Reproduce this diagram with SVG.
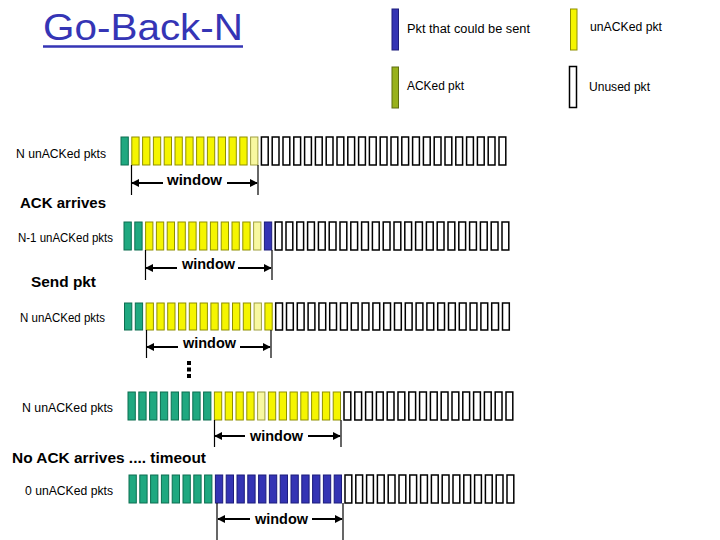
<svg xmlns="http://www.w3.org/2000/svg" width="720" height="540" viewBox="0 0 720 540">
<style>
.lbl{font-family:"Liberation Sans",Arial,sans-serif;font-size:12px;fill:#000}
.big{font-family:"Liberation Sans",Arial,sans-serif;font-size:15px;font-weight:bold;fill:#000}
.win{font-family:"Liberation Sans",Arial,sans-serif;font-size:15px;font-weight:bold;fill:#000}
.g{fill:#1fa880;stroke:#0c6e50;stroke-width:1;width:7.3px}
.y{fill:#f5f500;stroke:#8f8f00;stroke-width:1;width:7.3px}
.py{fill:#f8f8a0;stroke:#a0a040;stroke-width:1;width:7.3px}
.b{fill:#3434b4;stroke:#1c1c7c;stroke-width:1;width:7.3px}
.w{fill:#fff;stroke:#000;stroke-width:1.5;width:6.8px}
.o{fill:#99b21c;stroke:#5e6e10;stroke-width:1}
.tick{stroke:#000;stroke-width:1.2;fill:none}
.arr{stroke:#000;stroke-width:2;fill:none;marker-end:url(#ah)}
</style>
<defs>
<marker id="ah" viewBox="0 0 10 10" refX="9" refY="5" markerWidth="4" markerHeight="4" orient="auto" markerUnits="strokeWidth">
<path d="M0,0 L10,5 L0,10 z" fill="#000"/>
</marker>
</defs>

<g id="title">
<text x="43" y="40" font-family="'Liberation Sans',Arial,sans-serif" font-size="36" fill="#3535b5" textLength="200" lengthAdjust="spacingAndGlyphs">Go-Back-N</text>
<line x1="43" y1="46.5" x2="243" y2="46.5" stroke="#3535b5" stroke-width="2.5"/>
</g>

<g id="legend">
<rect class="b" x="392" y="9" width="6.5" height="41" style="width:6.5px"/>
<text class="lbl" x="407" y="33" textLength="123" lengthAdjust="spacingAndGlyphs">Pkt that could be sent</text>
<rect class="y" x="570.5" y="9" width="6.5" height="41" style="width:6.5px"/>
<text class="lbl" x="590" y="31" textLength="72" lengthAdjust="spacingAndGlyphs">unACKed pkt</text>
<rect class="o" x="392" y="67" width="6.5" height="41"/>
<text class="lbl" x="407" y="90" textLength="57" lengthAdjust="spacingAndGlyphs">ACKed pkt</text>
<rect class="w" x="569.5" y="66.5" width="7" height="41" style="width:7px"/>
<text class="lbl" x="589" y="91" textLength="61" lengthAdjust="spacingAndGlyphs">Unused pkt</text>
</g>

<g id="labels">
<text class="lbl" x="16" y="158" textLength="90" lengthAdjust="spacingAndGlyphs">N unACKed pkts</text>
<text class="big" x="20" y="208" textLength="86" lengthAdjust="spacingAndGlyphs">ACK arrives</text>
<text class="lbl" x="18" y="242" textLength="95" lengthAdjust="spacingAndGlyphs">N-1 unACKed pkts</text>
<text class="big" x="31" y="287" textLength="65" lengthAdjust="spacingAndGlyphs">Send pkt</text>
<text class="lbl" x="20" y="322" textLength="85" lengthAdjust="spacingAndGlyphs">N unACKed pkts</text>
<text class="lbl" x="22" y="412" textLength="91" lengthAdjust="spacingAndGlyphs">N unACKed pkts</text>
<text class="big" x="12" y="463" textLength="194" lengthAdjust="spacingAndGlyphs">No ACK arrives .... timeout</text>
<text class="lbl" x="25" y="495" textLength="88" lengthAdjust="spacingAndGlyphs">0 unACKed pkts</text>
</g>

<g id="row1" transform="translate(121,137)">
<rect class="g" x="0" y="0" width="8" height="28"/>
<rect class="y" x="10.8" y="0" width="8" height="28"/>
<rect class="y" x="21.6" y="0" width="8" height="28"/>
<rect class="y" x="32.4" y="0" width="8" height="28"/>
<rect class="y" x="43.2" y="0" width="8" height="28"/>
<rect class="y" x="54" y="0" width="8" height="28"/>
<rect class="y" x="64.8" y="0" width="8" height="28"/>
<rect class="y" x="75.6" y="0" width="8" height="28"/>
<rect class="y" x="86.4" y="0" width="8" height="28"/>
<rect class="y" x="97.2" y="0" width="8" height="28"/>
<rect class="y" x="108" y="0" width="8" height="28"/>
<rect class="y" x="118.8" y="0" width="8" height="28"/>
<rect class="py" x="129.6" y="0" width="8" height="28"/>
<rect class="w" x="140.4" y="0" width="8" height="28"/>
<rect class="w" x="151.2" y="0" width="8" height="28"/>
<rect class="w" x="162" y="0" width="8" height="28"/>
<rect class="w" x="172.8" y="0" width="8" height="28"/>
<rect class="w" x="183.6" y="0" width="8" height="28"/>
<rect class="w" x="194.4" y="0" width="8" height="28"/>
<rect class="w" x="205.2" y="0" width="8" height="28"/>
<rect class="w" x="216" y="0" width="8" height="28"/>
<rect class="w" x="226.8" y="0" width="8" height="28"/>
<rect class="w" x="237.6" y="0" width="8" height="28"/>
<rect class="w" x="248.4" y="0" width="8" height="28"/>
<rect class="w" x="259.2" y="0" width="8" height="28"/>
<rect class="w" x="270" y="0" width="8" height="28"/>
<rect class="w" x="280.8" y="0" width="8" height="28"/>
<rect class="w" x="291.6" y="0" width="8" height="28"/>
<rect class="w" x="302.4" y="0" width="8" height="28"/>
<rect class="w" x="313.2" y="0" width="8" height="28"/>
<rect class="w" x="324" y="0" width="8" height="28"/>
<rect class="w" x="334.8" y="0" width="8" height="28"/>
<rect class="w" x="345.6" y="0" width="8" height="28"/>
<rect class="w" x="356.4" y="0" width="8" height="28"/>
<rect class="w" x="367.2" y="0" width="8" height="28"/>
<rect class="w" x="378" y="0" width="8" height="28"/>
</g>

<g id="row2" transform="translate(124,222)">
<rect class="g" x="0" y="0" width="8" height="28"/>
<rect class="g" x="10.8" y="0" width="8" height="28"/>
<rect class="y" x="21.6" y="0" width="8" height="28"/>
<rect class="y" x="32.4" y="0" width="8" height="28"/>
<rect class="y" x="43.2" y="0" width="8" height="28"/>
<rect class="y" x="54" y="0" width="8" height="28"/>
<rect class="y" x="64.8" y="0" width="8" height="28"/>
<rect class="y" x="75.6" y="0" width="8" height="28"/>
<rect class="y" x="86.4" y="0" width="8" height="28"/>
<rect class="y" x="97.2" y="0" width="8" height="28"/>
<rect class="y" x="108" y="0" width="8" height="28"/>
<rect class="y" x="118.8" y="0" width="8" height="28"/>
<rect class="py" x="129.6" y="0" width="8" height="28"/>
<rect class="b" x="140.4" y="0" width="8" height="28"/>
<rect class="w" x="151.2" y="0" width="8" height="28"/>
<rect class="w" x="162" y="0" width="8" height="28"/>
<rect class="w" x="172.8" y="0" width="8" height="28"/>
<rect class="w" x="183.6" y="0" width="8" height="28"/>
<rect class="w" x="194.4" y="0" width="8" height="28"/>
<rect class="w" x="205.2" y="0" width="8" height="28"/>
<rect class="w" x="216" y="0" width="8" height="28"/>
<rect class="w" x="226.8" y="0" width="8" height="28"/>
<rect class="w" x="237.6" y="0" width="8" height="28"/>
<rect class="w" x="248.4" y="0" width="8" height="28"/>
<rect class="w" x="259.2" y="0" width="8" height="28"/>
<rect class="w" x="270" y="0" width="8" height="28"/>
<rect class="w" x="280.8" y="0" width="8" height="28"/>
<rect class="w" x="291.6" y="0" width="8" height="28"/>
<rect class="w" x="302.4" y="0" width="8" height="28"/>
<rect class="w" x="313.2" y="0" width="8" height="28"/>
<rect class="w" x="324" y="0" width="8" height="28"/>
<rect class="w" x="334.8" y="0" width="8" height="28"/>
<rect class="w" x="345.6" y="0" width="8" height="28"/>
<rect class="w" x="356.4" y="0" width="8" height="28"/>
<rect class="w" x="367.2" y="0" width="8" height="28"/>
<rect class="w" x="378" y="0" width="8" height="28"/>
</g>

<g id="row3" transform="translate(124.5,303)">
<rect class="g" x="0" y="0" width="8" height="27"/>
<rect class="g" x="10.8" y="0" width="8" height="27"/>
<rect class="y" x="21.6" y="0" width="8" height="27"/>
<rect class="y" x="32.4" y="0" width="8" height="27"/>
<rect class="y" x="43.2" y="0" width="8" height="27"/>
<rect class="y" x="54" y="0" width="8" height="27"/>
<rect class="y" x="64.8" y="0" width="8" height="27"/>
<rect class="y" x="75.6" y="0" width="8" height="27"/>
<rect class="y" x="86.4" y="0" width="8" height="27"/>
<rect class="y" x="97.2" y="0" width="8" height="27"/>
<rect class="y" x="108" y="0" width="8" height="27"/>
<rect class="y" x="118.8" y="0" width="8" height="27"/>
<rect class="py" x="129.6" y="0" width="8" height="27"/>
<rect class="y" x="140.4" y="0" width="8" height="27"/>
<rect class="w" x="151.2" y="0" width="8" height="27"/>
<rect class="w" x="162" y="0" width="8" height="27"/>
<rect class="w" x="172.8" y="0" width="8" height="27"/>
<rect class="w" x="183.6" y="0" width="8" height="27"/>
<rect class="w" x="194.4" y="0" width="8" height="27"/>
<rect class="w" x="205.2" y="0" width="8" height="27"/>
<rect class="w" x="216" y="0" width="8" height="27"/>
<rect class="w" x="226.8" y="0" width="8" height="27"/>
<rect class="w" x="237.6" y="0" width="8" height="27"/>
<rect class="w" x="248.4" y="0" width="8" height="27"/>
<rect class="w" x="259.2" y="0" width="8" height="27"/>
<rect class="w" x="270" y="0" width="8" height="27"/>
<rect class="w" x="280.8" y="0" width="8" height="27"/>
<rect class="w" x="291.6" y="0" width="8" height="27"/>
<rect class="w" x="302.4" y="0" width="8" height="27"/>
<rect class="w" x="313.2" y="0" width="8" height="27"/>
<rect class="w" x="324" y="0" width="8" height="27"/>
<rect class="w" x="334.8" y="0" width="8" height="27"/>
<rect class="w" x="345.6" y="0" width="8" height="27"/>
<rect class="w" x="356.4" y="0" width="8" height="27"/>
<rect class="w" x="367.2" y="0" width="8" height="27"/>
<rect class="w" x="378" y="0" width="8" height="27"/>
</g>

<g id="dots" fill="#000">
<rect x="187" y="361" width="4" height="4"/>
<rect x="187" y="367.5" width="4" height="4"/>
<rect x="187" y="374" width="4" height="4"/>
</g>

<g id="row4" transform="translate(128,392)">
<rect class="g" x="0" y="0" width="8" height="28"/>
<rect class="g" x="10.8" y="0" width="8" height="28"/>
<rect class="g" x="21.6" y="0" width="8" height="28"/>
<rect class="g" x="32.4" y="0" width="8" height="28"/>
<rect class="g" x="43.2" y="0" width="8" height="28"/>
<rect class="g" x="54" y="0" width="8" height="28"/>
<rect class="g" x="64.8" y="0" width="8" height="28"/>
<rect class="g" x="75.6" y="0" width="8" height="28"/>
<rect class="y" x="86.4" y="0" width="8" height="28"/>
<rect class="y" x="97.2" y="0" width="8" height="28"/>
<rect class="y" x="108" y="0" width="8" height="28"/>
<rect class="y" x="118.8" y="0" width="8" height="28"/>
<rect class="py" x="129.6" y="0" width="8" height="28"/>
<rect class="y" x="140.4" y="0" width="8" height="28"/>
<rect class="y" x="151.2" y="0" width="8" height="28"/>
<rect class="y" x="162" y="0" width="8" height="28"/>
<rect class="y" x="172.8" y="0" width="8" height="28"/>
<rect class="y" x="183.6" y="0" width="8" height="28"/>
<rect class="y" x="194.4" y="0" width="8" height="28"/>
<rect class="y" x="205.2" y="0" width="8" height="28"/>
<rect class="w" x="216" y="0" width="8" height="28"/>
<rect class="w" x="226.8" y="0" width="8" height="28"/>
<rect class="w" x="237.6" y="0" width="8" height="28"/>
<rect class="w" x="248.4" y="0" width="8" height="28"/>
<rect class="w" x="259.2" y="0" width="8" height="28"/>
<rect class="w" x="270" y="0" width="8" height="28"/>
<rect class="w" x="280.8" y="0" width="8" height="28"/>
<rect class="w" x="291.6" y="0" width="8" height="28"/>
<rect class="w" x="302.4" y="0" width="8" height="28"/>
<rect class="w" x="313.2" y="0" width="8" height="28"/>
<rect class="w" x="324" y="0" width="8" height="28"/>
<rect class="w" x="334.8" y="0" width="8" height="28"/>
<rect class="w" x="345.6" y="0" width="8" height="28"/>
<rect class="w" x="356.4" y="0" width="8" height="28"/>
<rect class="w" x="367.2" y="0" width="8" height="28"/>
<rect class="w" x="378" y="0" width="8" height="28"/>
</g>

<g id="row5" transform="translate(129,475)">
<rect class="g" x="0" y="0" width="8" height="28"/>
<rect class="g" x="10.8" y="0" width="8" height="28"/>
<rect class="g" x="21.6" y="0" width="8" height="28"/>
<rect class="g" x="32.4" y="0" width="8" height="28"/>
<rect class="g" x="43.2" y="0" width="8" height="28"/>
<rect class="g" x="54" y="0" width="8" height="28"/>
<rect class="g" x="64.8" y="0" width="8" height="28"/>
<rect class="g" x="75.6" y="0" width="8" height="28"/>
<rect class="b" x="86.4" y="0" width="8" height="28"/>
<rect class="b" x="97.2" y="0" width="8" height="28"/>
<rect class="b" x="108" y="0" width="8" height="28"/>
<rect class="b" x="118.8" y="0" width="8" height="28"/>
<rect class="b" x="129.6" y="0" width="8" height="28"/>
<rect class="b" x="140.4" y="0" width="8" height="28"/>
<rect class="b" x="151.2" y="0" width="8" height="28"/>
<rect class="b" x="162" y="0" width="8" height="28"/>
<rect class="b" x="172.8" y="0" width="8" height="28"/>
<rect class="b" x="183.6" y="0" width="8" height="28"/>
<rect class="b" x="194.4" y="0" width="8" height="28"/>
<rect class="b" x="205.2" y="0" width="8" height="28"/>
<rect class="w" x="216" y="0" width="8" height="28"/>
<rect class="w" x="226.8" y="0" width="8" height="28"/>
<rect class="w" x="237.6" y="0" width="8" height="28"/>
<rect class="w" x="248.4" y="0" width="8" height="28"/>
<rect class="w" x="259.2" y="0" width="8" height="28"/>
<rect class="w" x="270" y="0" width="8" height="28"/>
<rect class="w" x="280.8" y="0" width="8" height="28"/>
<rect class="w" x="291.6" y="0" width="8" height="28"/>
<rect class="w" x="302.4" y="0" width="8" height="28"/>
<rect class="w" x="313.2" y="0" width="8" height="28"/>
<rect class="w" x="324" y="0" width="8" height="28"/>
<rect class="w" x="334.8" y="0" width="8" height="28"/>
<rect class="w" x="345.6" y="0" width="8" height="28"/>
<rect class="w" x="356.4" y="0" width="8" height="28"/>
<rect class="w" x="367.2" y="0" width="8" height="28"/>
<rect class="w" x="378" y="0" width="8" height="28"/>
</g>

<g id="connectors">
<line class="tick" x1="131.5" y1="165" x2="131.5" y2="195"/>
<line class="tick" x1="258" y1="165" x2="258" y2="195"/>
<line class="arr" x1="163" y1="183" x2="132" y2="183"/>
<line class="arr" x1="227" y1="183" x2="257" y2="183"/>

<line class="tick" x1="145.5" y1="250" x2="145.5" y2="280"/>
<line class="tick" x1="272" y1="250" x2="272" y2="280"/>
<line class="arr" x1="177" y1="268" x2="146" y2="268"/>
<line class="arr" x1="238" y1="268" x2="271" y2="268"/>

<line class="tick" x1="146.5" y1="330" x2="146.5" y2="358"/>
<line class="tick" x1="271" y1="330" x2="271" y2="358"/>
<line class="arr" x1="178" y1="347" x2="147" y2="347"/>
<line class="arr" x1="240" y1="347" x2="270" y2="347"/>

<line class="tick" x1="214.5" y1="420" x2="214.5" y2="447"/>
<line class="tick" x1="341" y1="420" x2="341" y2="447"/>
<line class="arr" x1="245" y1="436" x2="215" y2="436"/>
<line class="arr" x1="308" y1="436" x2="340" y2="436"/>

<line class="tick" x1="217" y1="503" x2="217" y2="540"/>
<line class="tick" x1="343" y1="503" x2="343" y2="540"/>
<line class="arr" x1="250" y1="519" x2="218" y2="519"/>
<line class="arr" x1="312" y1="519" x2="342" y2="519"/>
</g>

<g id="window-labels">
<text class="win" x="167" y="185" textLength="55" lengthAdjust="spacingAndGlyphs">window</text>
<text class="win" x="182" y="269" textLength="53" lengthAdjust="spacingAndGlyphs">window</text>
<text class="win" x="183" y="348" textLength="53" lengthAdjust="spacingAndGlyphs">window</text>
<text class="win" x="250" y="441" textLength="53" lengthAdjust="spacingAndGlyphs">window</text>
<text class="win" x="255" y="524" textLength="53" lengthAdjust="spacingAndGlyphs">window</text>
</g>
</svg>
